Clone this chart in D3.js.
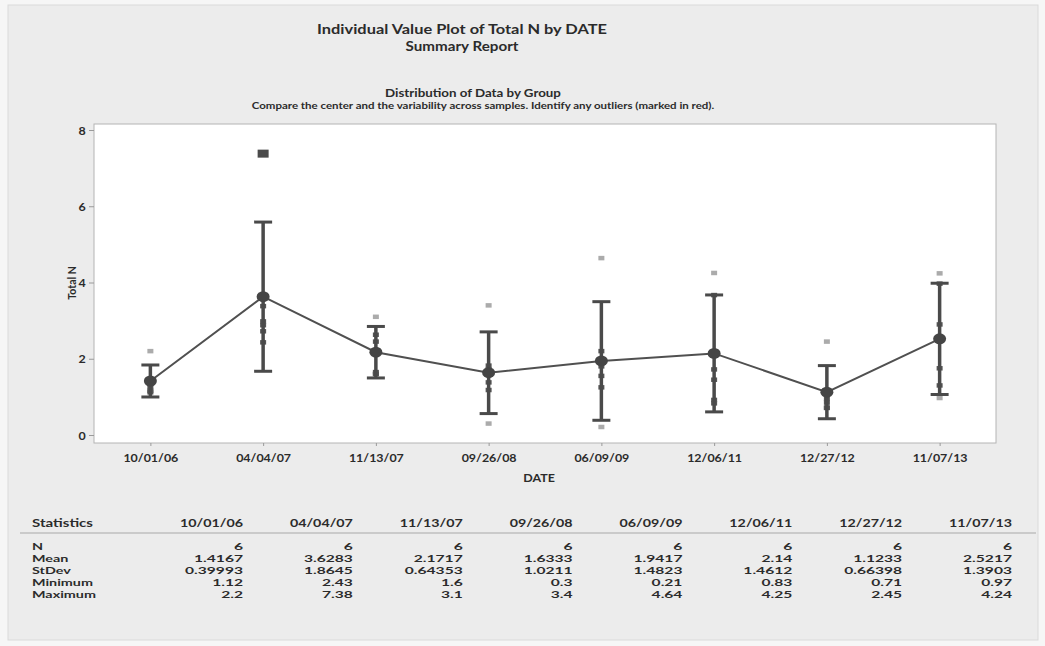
<!DOCTYPE html>
<html>
<head>
<meta charset="utf-8">
<script src="https://cdn.jsdelivr.net/npm/d3@7"></script>
<style>
  html, body { margin: 0; padding: 0; background: #f6f6f6; }
  svg { display: block; }
  text { font-family: Lato, "Open Sans", sans-serif; fill: #2b2b2b; }
</style>
</head>
<body>
<svg id="chart" width="1045" height="646"></svg>
<script>
// Sampling dates (groups)
const dates = ["10/01/06", "04/04/07", "11/13/07", "09/26/08", "06/09/09", "12/06/11", "12/27/12", "11/07/13"];

// Individual Total N observations per date
const obs0 = [1.12, 1.16, 1.25, 1.34, 1.43, 2.2];
const obs1 = [2.43, 2.72, 2.88, 2.98, 3.38, 7.38];
const obs2 = [1.6, 1.6, 1.65, 2.45, 2.63, 3.1];
const obs3 = [0.3, 1.18, 1.38, 1.72, 1.82, 3.4];
const obs4 = [0.21, 1.25, 1.55, 1.8, 2.2, 4.64];
const obs5 = [0.83, 0.92, 1.45, 1.72, 3.67, 4.25];
const obs6 = [0.71, 0.72, 0.85, 0.95, 1.06, 2.45];
const obs7 = [0.97, 1.3, 1.75, 2.9, 3.97, 4.24];
const observations = [obs0, obs1, obs2, obs3, obs4, obs5, obs6, obs7];

// Summary statistics per date
const counts   = [6, 6, 6, 6, 6, 6, 6, 6];
const means    = [1.4167, 3.6283, 2.1717, 1.6333, 1.9417, 2.14, 1.1233, 2.5217];
const stdevs   = [0.39993, 1.8645, 0.64353, 1.0211, 1.4823, 1.4612, 0.66398, 1.3903];
const minimums = [1.12, 2.43, 1.6, 0.3, 0.21, 0.83, 0.71, 0.97];
const maximums = [2.2, 7.38, 3.1, 3.4, 4.64, 4.25, 2.45, 4.24];

// Flagged outliers
const outlierDates  = ["04/04/07"];
const outlierValues = [7.38];

// Axis ticks
const yTicks = [0, 2, 4, 6, 8];

// Student t quantile (0.975, 5 df) for the 95% interval on the mean
const tCrit = 2.5706;

const svg = d3.select("#chart");

// Horizontal stretch that makes `sample` span `width` pixels at the given font
function stretchFor(sample, size, weight, width) {
  const t = svg.append("text").attr("font-size", size).attr("font-weight", weight).text(sample);
  const len = t.node().getComputedTextLength();
  t.remove();
  return width / len;
}

function label(parent, x, y, s, o = {}) {
  return parent.append("text")
    .attr("transform", `translate(${x},${y}) scale(${o.sx || 1},1)`)
    .attr("font-size", o.size || 11)
    .attr("font-weight", o.weight || "normal")
    .attr("text-anchor", o.anchor || "start")
    .text(s);
}

function fitted(parent, x, y, s, o, width) {
  return label(parent, x, y, s, { ...o, sx: stretchFor(s, o.size, o.weight, width) });
}

// Panel
svg.append("rect").attr("x", 8).attr("y", 5).attr("width", 1030).attr("height", 635)
  .attr("fill", "#ececec").attr("stroke", "#dadada");

// Titles
fitted(svg, 462, 34, "Individual Value Plot of Total N by DATE", { size: 14, weight: "bold", anchor: "middle" }, 290);
fitted(svg, 462, 51, "Summary Report", { size: 12.5, weight: "bold", anchor: "middle" }, 113);
fitted(svg, 473, 97, "Distribution of Data by Group", { size: 11.5, weight: "bold", anchor: "middle" }, 176);
fitted(svg, 483, 109, "Compare the center and the variability across samples. Identify any outliers (marked in red).", { size: 9.5, weight: "bold", anchor: "middle" }, 463);

// Plot frame
const plot = { left: 94, right: 996, top: 124, bottom: 443 };

const x = d3.scalePoint().domain(dates).range([plot.left, plot.right]).padding(0.5);
const y = d3.scaleLinear().domain([0, 8]).range([435, 130]);

svg.append("rect").attr("x", plot.left).attr("y", plot.top)
  .attr("width", plot.right - plot.left).attr("height", plot.bottom - plot.top)
  .attr("fill", "#ffffff").attr("stroke", "#b4b4b4").attr("stroke-width", 1);

const tickSX = stretchFor("10/01/06", 10.5, "bold", 55);

// Y axis
const yAxis = svg.append("g").attr("transform", `translate(${plot.left},0)`)
  .call(d3.axisLeft(y).tickValues(yTicks).tickSize(5).tickPadding(7));
yAxis.select(".domain").remove();
yAxis.selectAll(".tick line").attr("stroke", "#9a9a9a");
yAxis.selectAll(".tick text").remove();
yAxis.selectAll(".tick").each(function (d) {
  label(d3.select(this), -12, 4, d, { size: 10.5, weight: "bold", anchor: "middle", sx: tickSX });
});

// X axis
const xAxis = svg.append("g").attr("transform", `translate(0,${plot.bottom})`)
  .call(d3.axisBottom(x).tickSize(3));
xAxis.select(".domain").remove();
xAxis.selectAll(".tick line").attr("stroke", "#9a9a9a");
xAxis.selectAll(".tick text").remove();
xAxis.selectAll(".tick").each(function (d) {
  label(d3.select(this), 0, 19, d, { size: 10.5, weight: "bold", anchor: "middle", sx: tickSX });
});

// Axis titles
label(svg, 539, 482, "DATE", { size: 10.5, weight: "bold", anchor: "middle", sx: tickSX });
svg.append("text")
  .attr("transform", "translate(76,283) rotate(-90)")
  .attr("font-size", 10.5).attr("font-weight", "bold").attr("text-anchor", "middle")
  .text("Total N");

// Interval bounds for each date
const groups = dates.map((d, i) => {
  const half = tCrit * stdevs[i] / Math.sqrt(counts[i]);
  return { date: d, mean: means[i], lo: means[i] - half, hi: means[i] + half, obs: observations[i] };
});

const isOutlier = (d, v) => outlierDates.some((od, k) => od === d && outlierValues[k] === v);

// Individual observations
const pts = [];
groups.forEach(g => g.obs.forEach(v => pts.push({ date: g.date, v, inside: v >= g.lo && v <= g.hi, out: isOutlier(g.date, v) })));

svg.append("g").selectAll("rect")
  .data(pts.filter(p => !p.out))
  .join("rect")
  .attr("x", p => x(p.date) - 3).attr("y", p => y(p.v) - 2.25)
  .attr("width", 6).attr("height", 4.5)
  .attr("fill", p => p.inside ? "#555555" : "#ababab");

// Mean connecting line
svg.append("path")
  .datum(groups)
  .attr("fill", "none").attr("stroke", "#505050").attr("stroke-width", 2)
  .attr("d", d3.line().x(g => x(g.date)).y(g => y(g.mean)));

// Interval bars with caps
const bars = svg.append("g").attr("stroke", "#4a4a4a").attr("stroke-width", 3.5);
bars.selectAll("line.v").data(groups).join("line").attr("class", "v")
  .attr("x1", g => x(g.date)).attr("x2", g => x(g.date))
  .attr("y1", g => y(g.lo)).attr("y2", g => y(g.hi));
bars.selectAll("line.top").data(groups).join("line").attr("class", "top")
  .attr("x1", g => x(g.date) - 9).attr("x2", g => x(g.date) + 9)
  .attr("y1", g => y(g.hi)).attr("y2", g => y(g.hi)).attr("stroke-width", 3);
bars.selectAll("line.bot").data(groups).join("line").attr("class", "bot")
  .attr("x1", g => x(g.date) - 9).attr("x2", g => x(g.date) + 9)
  .attr("y1", g => y(g.lo)).attr("y2", g => y(g.lo)).attr("stroke-width", 3);

// Mean markers
svg.append("g").selectAll("ellipse").data(groups).join("ellipse")
  .attr("cx", g => x(g.date)).attr("cy", g => y(g.mean))
  .attr("rx", 6.5).attr("ry", 5.5).attr("fill", "#454545");

// Outliers
svg.append("g").selectAll("rect")
  .data(pts.filter(p => p.out))
  .join("rect")
  .attr("x", p => x(p.date) - 5.5).attr("y", p => y(p.v) - 4)
  .attr("width", 11).attr("height", 8)
  .attr("fill", "#4a4a4a");

// Statistics table
const colRight = d3.scalePoint().domain(dates).range([243, 1012]);
const tbl = svg.append("g");
fitted(tbl, 32, 527, "Statistics", { size: 11, weight: "bold" }, 61);
const headSX = stretchFor("10/01/06", 11, "bold", 63);
dates.forEach(d => label(tbl, colRight(d), 527, d, { size: 11, weight: "bold", anchor: "end", sx: headSX }));
tbl.append("line").attr("x1", 20).attr("x2", 1036).attr("y1", 533).attr("y2", 533)
  .attr("stroke", "#a8a8a8").attr("stroke-width", 1);

const rowNames = ["N", "Mean", "StDev", "Minimum", "Maximum"];
const rowData = [counts, means, stdevs, minimums, maximums];
const bodySX = stretchFor("0.39993", 9.8, "bold", 58);
rowNames.forEach((name, r) => {
  const yy = 550 + r * 12;
  label(tbl, 32, yy, name, { size: 9.8, weight: "bold", sx: bodySX * 0.92 });
  dates.forEach((d, c) => label(tbl, colRight(d), yy, String(rowData[r][c]), { size: 9.8, weight: "bold", anchor: "end", sx: bodySX }));
});
</script>
</body>
</html>
